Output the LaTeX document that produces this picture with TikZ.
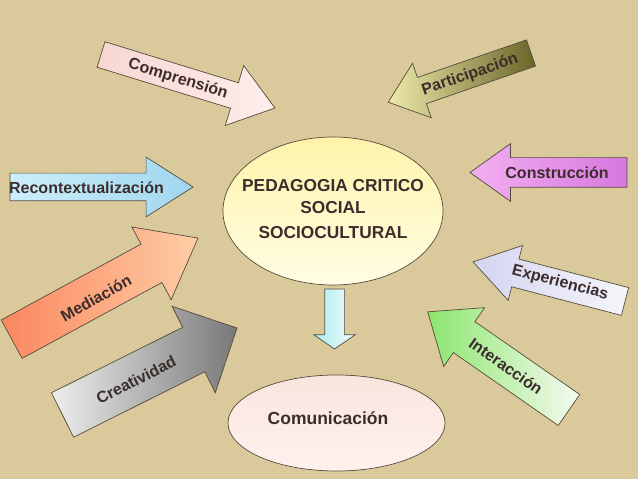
\documentclass[tikz,border=0pt]{standalone}
\usepackage{fontspec}
\setmainfont{Liberation Sans}
\usetikzlibrary{shapes.geometric, shapes.arrows}
\definecolor{fondo}{RGB}{218,202,155}
\definecolor{borde}{RGB}{85,75,60}
\definecolor{texto}{RGB}{60,45,45}
\tikzstyle{flecha} = [single arrow, draw=borde, line width=0.7pt, inner xsep=0pt, outer sep=0pt, text height=0pt, text depth=0pt, anchor=tail]
\tikzstyle{etiqueta} = [text=texto, font=\fontsize{16}{18}\selectfont\bfseries, inner sep=0pt]
\tikzstyle{elipse} = [ellipse, draw=borde, line width=0.7pt, inner sep=0pt]

\begin{document}
\begin{tikzpicture}[x=1pt, y=1pt]
		\useasboundingbox (0,0) rectangle (638,479);
		\fill[fondo] (0,0) rectangle (638,479);

		\node (comprension) [flecha, minimum height=182, inner ysep=13, single arrow head extend=18, single arrow tip angle=73, rotate=-17.1, left color={rgb,255:red,248;green,214;blue,210}, right color={rgb,255:red,253;green,238;blue,235}] at (101,424.5) {};
		\node (participacion) [flecha, minimum height=151, inner ysep=13.5, single arrow head extend=15, single arrow tip angle=78, rotate=199, left color={rgb,255:red,238;green,234;blue,170}, right color={rgb,255:red,105;green,100;blue,40}] at (531,426) {};
		\node (recontext) [flecha, minimum height=183, inner ysep=13.5, single arrow head extend=16, single arrow tip angle=65, rotate=0, left color={rgb,255:red,205;green,238;blue,250}, right color={rgb,255:red,160;green,215;blue,238}] at (10,292) {};
		\node (construccion) [flecha, minimum height=157, inner ysep=14.5, single arrow head extend=14, single arrow tip angle=71, rotate=180, left color={rgb,255:red,242;green,175;blue,240}, right color={rgb,255:red,215;green,120;blue,222}] at (627,306.5) {};
		\node (experiencias) [flecha, minimum height=157, inner ysep=14, single arrow head extend=14, single arrow tip angle=66, rotate=165.4, left color={rgb,255:red,212;green,212;blue,240}, right color={rgb,255:red,246;green,246;blue,252}] at (625,177.5) {};
		\node (mediacion) [flecha, minimum height=212, inner ysep=21.5, single arrow head extend=19.5, single arrow tip angle=76, rotate=28.5, left color={rgb,255:red,250;green,135;blue,95}, right color={rgb,255:red,255;green,205;blue,165}] at (11.7,139.8) {};
		\node (creatividad) [flecha, minimum height=195, inner ysep=24.5, single arrow head extend=23.5, single arrow tip angle=90, rotate=26.5, left color={rgb,255:red,238;green,238;blue,238}, right color={rgb,255:red,120;green,120;blue,120}] at (62.5,64) {};
		\node (interaccion) [flecha, minimum height=172, inner ysep=18.5, single arrow head extend=17, single arrow tip angle=78, rotate=145.2, left color={rgb,255:red,140;green,230;blue,110}, right color={rgb,255:red,245;green,250;blue,240}] at (569,69) {};
		\node (bajada) [flecha, minimum height=60, inner ysep=9.5, single arrow head extend=11, single arrow tip angle=111, rotate=-90, left color={rgb,255:red,170;green,235;blue,240}, right color={rgb,255:red,242;green,252;blue,252}] at (334.5,190) {};

		\node (pedagogia) [elipse, minimum width=220, minimum height=148, top color={rgb,255:red,255;green,243;blue,170}, bottom color={rgb,255:red,255;green,253;blue,228}] at (333,268) {};
		\node (comunicacion) [elipse, minimum width=217, minimum height=96, top color={rgb,255:red,250;green,228;blue,222}, bottom color={rgb,255:red,254;green,242;blue,238}] at (336.5,56) {};

		\node (pedagogiatxt) [etiqueta, font=\fontsize{17.3}{22}\selectfont\bfseries, align=center] at (333,270) {PEDAGOGIA CRITICO\\SOCIAL\\[3pt]SOCIOCULTURAL};
		\node (comunicaciontxt) [etiqueta, font=\fontsize{17.5}{20}\selectfont\bfseries] at (328,61) {Comunicación};

		\node (comprensionlbl) [etiqueta, rotate=-17] at (178,400) {Comprensión};
		\node (participacionlbl) [etiqueta, rotate=19] at (470,404) {Participación};
		\node (recontextlbl) [etiqueta] at (86.5,291) {Recontextualización};
		\node (construccionlbl) [etiqueta] at (557,306) {Construcción};
		\node (experienciaslbl) [etiqueta, rotate=-14.6] at (560,196) {Experiencias};
		\node (mediacionlbl) [etiqueta, rotate=29] at (96,181) {Mediación};
		\node (creatividadlbl) [etiqueta, rotate=27] at (136,99) {Creatividad};
		\node (interaccionlbl) [etiqueta, rotate=-35] at (506,113) {Interacción};
	\end{tikzpicture}
\end{document}
